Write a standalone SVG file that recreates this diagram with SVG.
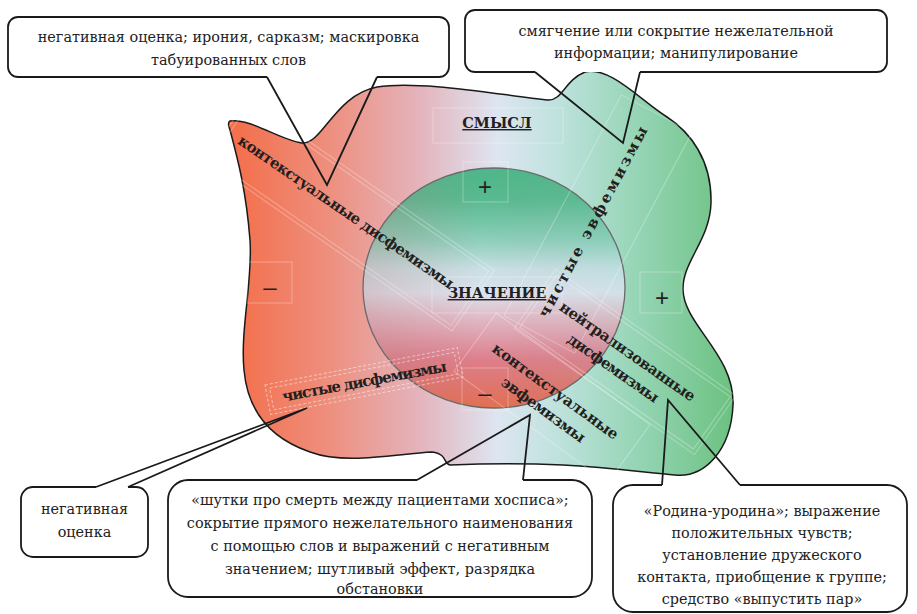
<svg xmlns="http://www.w3.org/2000/svg" width="917" height="614" viewBox="0 0 917 614">
  <defs>
    <linearGradient id="blobGrad" gradientUnits="userSpaceOnUse" x1="240" y1="0" x2="735" y2="0">
      <stop offset="0" stop-color="#f3714e"/>
      <stop offset="0.18" stop-color="#ee8f7e"/>
      <stop offset="0.36" stop-color="#e4b3bb"/>
      <stop offset="0.52" stop-color="#dde5f1"/>
      <stop offset="0.64" stop-color="#bfe2dd"/>
      <stop offset="0.8" stop-color="#96d5b6"/>
      <stop offset="1" stop-color="#6bc180"/>
    </linearGradient>
    <linearGradient id="circGrad" gradientUnits="userSpaceOnUse" x1="0" y1="168" x2="0" y2="408">
      <stop offset="0.03" stop-color="#4fb78b"/>
      <stop offset="0.13" stop-color="#58ba90"/>
      <stop offset="0.3" stop-color="#8ccfbb"/>
      <stop offset="0.42" stop-color="#c8e0e4"/>
      <stop offset="0.52" stop-color="#dde3ee"/>
      <stop offset="0.61" stop-color="#dfc0cc"/>
      <stop offset="0.7" stop-color="#dfa0ae"/>
      <stop offset="0.8" stop-color="#dd7f8a"/>
      <stop offset="0.95" stop-color="#e07262"/>
      <stop offset="1" stop-color="#e2704f"/>
    </linearGradient>
    <linearGradient id="circTint" gradientUnits="userSpaceOnUse" x1="363" y1="0" x2="625" y2="0">
      <stop offset="0" stop-color="#b87272" stop-opacity="0.28"/>
      <stop offset="0.45" stop-color="#b87272" stop-opacity="0"/>
      <stop offset="1" stop-color="#78d2be" stop-opacity="0.12"/>
    </linearGradient>
  </defs>
  <style>
    .box { fill: none; stroke: #1a1a1a; stroke-width: 1.8; stroke-linejoin: round; }
    .boxfill { fill: #ffffff; stroke: none; }
    .conn { fill: none; stroke: #1a1a1a; stroke-width: 1.8; stroke-linejoin: miter; }
    .ct { font-family: "DejaVu Serif", "Liberation Serif", serif; font-size: 14.4px; fill: #222; text-anchor: middle; }
    .lbl { font-family: "DejaVu Serif", "Liberation Serif", serif; font-size: 15px; font-weight: bold; fill: #231f20; text-anchor: middle; dominant-baseline: central; }
    .head { font-family: "DejaVu Serif", "Liberation Serif", serif; font-size: 14.5px; font-weight: bold; fill: #231f20; text-anchor: middle; text-decoration: underline; }
    .sign { font-family: "Liberation Sans", Arial, sans-serif; font-size: 24px; fill: #231f20; text-anchor: middle; dominant-baseline: central; }
    .frame { fill: none; stroke: #ffffff; stroke-opacity: 0.3; stroke-width: 1; }
    .dframe { fill: none; stroke: #ffffff; stroke-opacity: 0.5; stroke-width: 1; stroke-dasharray: 3 2; }
  </style>

  <g id="region">
    <path d="M 230,121 C 250,118 280,140 302,143 C 322,145 335,95 377,87 C 420,80 500,95 548,100 C 562,101 565,80 585,72 C 610,66 640,100 667,117 C 690,132 712,160 711,203 C 710,240 682,262 683,290 C 684,325 735,355 733,405 C 731,450 705,478 675,475 C 620,470 560,460 450,465 C 443,464 448,454 432,452 C 395,454 345,465 310,452 C 275,440 248,415 244,370 C 240,330 253,280 250,240 C 246,190 238,160 230,130 C 228,125 228,122 230,121 Z" fill="url(#blobGrad)" stroke="#1a1a1a" stroke-width="1.5"/>
  </g>

  <g id="core">
    <ellipse cx="494" cy="288" rx="131" ry="120" fill="url(#circGrad)"/>
    <ellipse cx="494" cy="288" rx="131" ry="120" fill="url(#circTint)" stroke="#6a6a6a" stroke-width="1.3"/>
  </g>

  <g id="frames">
    <rect class="frame" x="433" y="108" width="130" height="35"/>
    <rect class="frame" x="463" y="162" width="45" height="40"/>
    <rect class="frame" x="247" y="262" width="45" height="41"/>
    <rect class="frame" x="640" y="272" width="42" height="41"/>
    <rect class="frame" x="432" y="277" width="130" height="36"/>
    <rect class="frame" x="462" y="368" width="46" height="42"/>
    <g transform="translate(350,215) rotate(34.8)">
      <rect class="frame" x="-150" y="-37" width="300" height="74"/>
      <rect class="frame" x="-146" y="-33" width="292" height="66"/>
    </g>
    <g transform="translate(598,224) rotate(-62)">
      <rect class="frame" x="-125" y="-40" width="250" height="80"/>
    </g>
    <g transform="translate(625,362) rotate(35)">
      <rect class="frame" x="-110" y="-36" width="220" height="72"/>
      <rect class="frame" x="-106" y="-32" width="212" height="64"/>
    </g>
    <g transform="translate(552,398) rotate(36)">
      <rect class="frame" x="-95" y="-36" width="190" height="72"/>
    </g>
    <g transform="translate(364,381) rotate(-11)">
      <rect class="dframe" x="-98" y="-15" width="196" height="30"/>
      <rect class="dframe" x="-94" y="-11" width="188" height="22"/>
    </g>
  </g>

  <g id="labels">
    <text class="head" x="497" y="128">СМЫСЛ</text>
    <text class="head" x="497" y="298">ЗНАЧЕНИЕ</text>
    <text class="sign" x="485" y="186">+</text>
    <text class="sign" x="270" y="286">–</text>
    <text class="sign" x="662" y="297">+</text>
    <text class="sign" x="485" y="392">–</text>
    <text class="lbl" transform="translate(346,212) rotate(34.5)" textLength="258" lengthAdjust="spacing">контекстуальные дисфемизмы</text>
    <text class="lbl" transform="translate(593,222) rotate(-61.9)" textLength="214" lengthAdjust="spacing">чистые эвфемизмы</text>
    <g transform="translate(627.5,351.5) rotate(35)">
      <text class="lbl" x="0" y="0" textLength="162" lengthAdjust="spacing">нейтрализованные</text>
      <text class="lbl" x="-2" y="22" textLength="108" lengthAdjust="spacing">дисфемизмы</text>
    </g>
    <g transform="translate(555.5,391.5) rotate(36)">
      <text class="lbl" x="0" y="0" textLength="152" lengthAdjust="spacing">контекстуальные</text>
      <text class="lbl" x="1" y="22" textLength="100" lengthAdjust="spacing">эвфемизмы</text>
    </g>
    <text class="lbl" transform="translate(364.5,381.5) rotate(-10.5)" textLength="167" lengthAdjust="spacing">чистые дисфемизмы</text>
  </g>

  <g id="callout-top-left">
    <rect class="boxfill" x="8" y="17" width="441" height="60" rx="10"/>
    <path class="box" d="M 267,77 L 18,77 A 10 10 0 0 1 8,67 L 8,27 A 10 10 0 0 1 18,17 L 439,17 A 10 10 0 0 1 449,27 L 449,67 A 10 10 0 0 1 439,77 L 377,77"/>
    <text class="ct" x="228.5" y="42">негативная оценка; ирония, сарказм; маскировка</text>
    <text class="ct" x="228.5" y="65">табуированных слов</text>
  </g>

  <g id="callout-top-right">
    <rect class="boxfill" x="465" y="10" width="422" height="62" rx="10"/>
    <path class="box" d="M 535,72 L 475,72 A 10 10 0 0 1 465,62 L 465,20 A 10 10 0 0 1 475,10 L 877,10 A 10 10 0 0 1 887,20 L 887,62 A 10 10 0 0 1 877,72 L 640,72"/>
    <text class="ct" x="676" y="36">смягчение или сокрытие нежелательной</text>
    <text class="ct" x="676" y="58">информации; манипулирование</text>
  </g>

  <g id="callout-bottom-left">
    <rect class="boxfill" x="21" y="487" width="127" height="70" rx="12"/>
    <path class="box" d="M 96,487 L 33,487 A 12 12 0 0 0 21,499 L 21,545 A 12 12 0 0 0 33,557 L 136,557 A 12 12 0 0 0 148,545 L 148,499 A 12 12 0 0 0 136,487 L 128,487"/>
    <text class="ct" x="84.5" y="514">негативная</text>
    <text class="ct" x="84.5" y="537">оценка</text>
  </g>

  <g id="callout-bottom-middle">
    <rect class="boxfill" x="168" y="480" width="424" height="117" rx="20"/>
    <path class="box" d="M 417,480 L 188,480 A 20 20 0 0 0 168,500 L 168,577 A 20 20 0 0 0 188,597 L 572,597 A 20 20 0 0 0 592,577 L 592,500 A 20 20 0 0 0 572,480 L 523,480"/>
    <text class="ct" x="380" y="505">«шутки про смерть между пациентами хосписа»;</text>
    <text class="ct" x="380" y="528">сокрытие прямого нежелательного наименования</text>
    <text class="ct" x="380" y="551">с помощью слов и выражений с негативным</text>
    <text class="ct" x="380" y="574">значением; шутливый эффект, разрядка</text>
    <text class="ct" x="380" y="594">обстановки</text>
  </g>

  <g id="callout-bottom-right">
    <rect class="boxfill" x="613" y="485" width="294" height="127" rx="20"/>
    <path class="box" d="M 662,485 L 633,485 A 20 20 0 0 0 613,505 L 613,592 A 20 20 0 0 0 633,612 L 887,612 A 20 20 0 0 0 907,592 L 907,505 A 20 20 0 0 0 887,485 L 740,485"/>
    <text class="ct" x="762" y="516">«Родина-уродина»; выражение</text>
    <text class="ct" x="762" y="538">положительных чувств;</text>
    <text class="ct" x="762" y="560">установление дружеского</text>
    <text class="ct" x="762" y="582">контакта, приобщение к группе;</text>
    <text class="ct" x="762" y="604">средство «выпустить пар»</text>
  </g>

  <g id="connectors">
    <polyline class="conn" points="267,77 327,185 377,77"/>
    <polyline class="conn" points="535,72 623,143 640,72"/>
    <polyline class="conn" points="96,487 307,408 128,487"/>
    <polyline class="conn" points="417,480 530,415 523,480"/>
    <polyline class="conn" points="662,485 668,400 740,485"/>
  </g>
</svg>
